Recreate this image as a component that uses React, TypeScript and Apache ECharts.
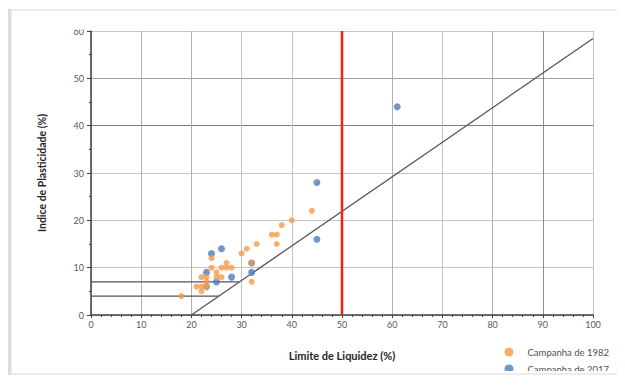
import React, { useEffect, useRef } from "react";
import * as echarts from "echarts";

const xTicks = [0, 10, 20, 30, 40, 50, 60, 70, 80, 90, 100];
const yTicks = [0, 10, 20, 30, 40, 50, 60];

// Campanha de 1982 [LL, IP]
const campanha1982: [number, number][] = [
  [18, 4], [21, 6], [22, 8], [22, 6], [22, 5], [23, 8], [23, 7], [23, 6],
  [24, 12], [24, 10], [25, 9], [25, 8], [26, 8], [26, 10], [27, 11], [27, 10],
  [28, 10], [30, 13], [31, 14], [32, 11], [32, 7], [33, 15], [36, 17], [37, 17],
  [37, 15], [38, 19], [40, 20], [44, 22],
];

// Campanha de 2017 [LL, IP]
const campanha2017: [number, number][] = [
  [23, 9], [23, 6], [24, 13], [25, 7], [26, 14], [28, 8], [32, 11], [32, 9],
  [45, 28], [45, 16], [61, 44],
];

// Reference lines
const lineA: [number, number][] = [[20, 0], [100, 58.4]];
const lineIP7: [number, number][] = [[0, 7], [29.6, 7]];
const lineIP4: [number, number][] = [[0, 4], [25.5, 4]];
const lineLL50: [number, number][] = [[50, 0], [50, 60]];

const seriesNames = ["Campanha de 1982", "Campanha de 2017"];

export default function App() {
  const ref = useRef<HTMLDivElement>(null);
  useEffect(() => {
    if (!ref.current) return;
    const chart = echarts.init(ref.current, undefined, { renderer: "svg" });
    const font = "Lato, 'Liberation Sans', sans-serif";
    const lineSeries = (data: [number, number][], color: string, width: number) => ({
      type: "line",
      data,
      symbol: "none",
      silent: true,
      lineStyle: { color, width },
      z: 3,
    });
    const legendBase = {
      orient: "vertical",
      left: 504.5,
      padding: 0,
      icon: "circle",
      itemWidth: 9,
      itemHeight: 9,
      textStyle: { color: "#505050", fontSize: 9.5, fontFamily: font, padding: [0, 0, 0, 9] },
    };
    chart.setOption({
      animation: false,
      backgroundColor: "#ffffff",
      grid: { left: 91, right: 32, top: 31, bottom: 70 },
      legend: [
        { ...legendBase, data: [seriesNames[0]], top: 347 },
        { ...legendBase, data: [seriesNames[1]], top: 364 },
      ],
      xAxis: {
        type: "value",
        min: xTicks[0],
        max: xTicks[xTicks.length - 1],
        interval: 10,
        name: "Limite de Liquidez (%)",
        nameLocation: "middle",
        nameGap: 35,
        nameTextStyle: { color: "#262626", fontSize: 11, fontWeight: "bold", fontFamily: font },
        axisLine: { lineStyle: { color: "#404040", width: 1.5 } },
        axisTick: { show: true, length: 3, lineStyle: { color: "#404040" } },
        minorTick: { show: true, splitNumber: 5, length: 2, lineStyle: { color: "#404040" } },
        axisLabel: { color: "#595959", fontSize: 9, fontFamily: font, margin: 5 },
        splitLine: {
          show: true,
          lineStyle: {
            color: ["#c4c4c4", "#b0b0b0", "#b0b0b0", "#c4c4c4", "#c4c4c4", "#c4c4c4", "#b0b0b0", "#c4c4c4", "#b0b0b0", "#8c8c8c", "#c4c4c4"],
            width: 1,
          },
        },
      },
      yAxis: {
        type: "value",
        min: yTicks[0],
        max: yTicks[yTicks.length - 1],
        interval: 10,
        name: "Indice de Plasticidade (%)",
        nameLocation: "middle",
        nameGap: 44,
        nameRotate: 90,
        nameTextStyle: { color: "#262626", fontSize: 10.5, fontWeight: "bold", fontFamily: font },
        axisLine: { show: true, lineStyle: { color: "#404040", width: 1.5 } },
        axisTick: { show: true, length: 4, lineStyle: { color: "#404040" } },
        minorTick: { show: true, splitNumber: 2, length: 2, lineStyle: { color: "#404040" } },
        axisLabel: { color: "#595959", fontSize: 9, fontFamily: font, margin: 7 },
        splitLine: {
          show: true,
          lineStyle: {
            color: ["#c4c4c4", "#c4c4c4", "#c4c4c4", "#c4c4c4", "#7f7f7f", "#a0a0a0", "#c4c4c4"],
            width: 1.2,
          },
        },
      },
      series: [
        lineSeries(lineA, "#555555", 1.3),
        lineSeries(lineIP7, "#555555", 1.3),
        lineSeries(lineIP4, "#555555", 1.3),
        lineSeries(lineLL50, "#ff1a1a", 2.5),
        {
          name: seriesNames[1],
          type: "scatter",
          data: campanha2017,
          symbol: "circle",
          symbolSize: 7,
          itemStyle: { color: "#4a7ebb" },
          z: 4,
        },
        {
          name: seriesNames[0],
          type: "scatter",
          data: campanha1982,
          symbol: "circle",
          symbolSize: 6,
          itemStyle: { color: "#f79a4a" },
          z: 5,
        },
      ],
      graphic: [
        { type: "rect", z: 100, shape: { x: 0, y: 371, width: 625, height: 14 }, style: { fill: "#ffffff" } },
        { type: "rect", z: 101, shape: { x: 10, y: 373, width: 615, height: 2 }, style: { fill: "#ececec" } },
        { type: "rect", z: 100, shape: { x: 66, y: 20, width: 20, height: 9.5 }, style: { fill: "#ffffff" } },
        { type: "rect", z: 101, shape: { x: 8, y: 9, width: 3.5, height: 366 }, style: { fill: "#dcdcdc" } },
        { type: "rect", z: 101, shape: { x: 11.5, y: 9, width: 613.5, height: 2 }, style: { fill: "#ededed" } },
      ],
    });
    return () => chart.dispose();
  }, []);
  return <div ref={ref} style={{ width: 625, height: 385, margin: -8 }} />;
}
